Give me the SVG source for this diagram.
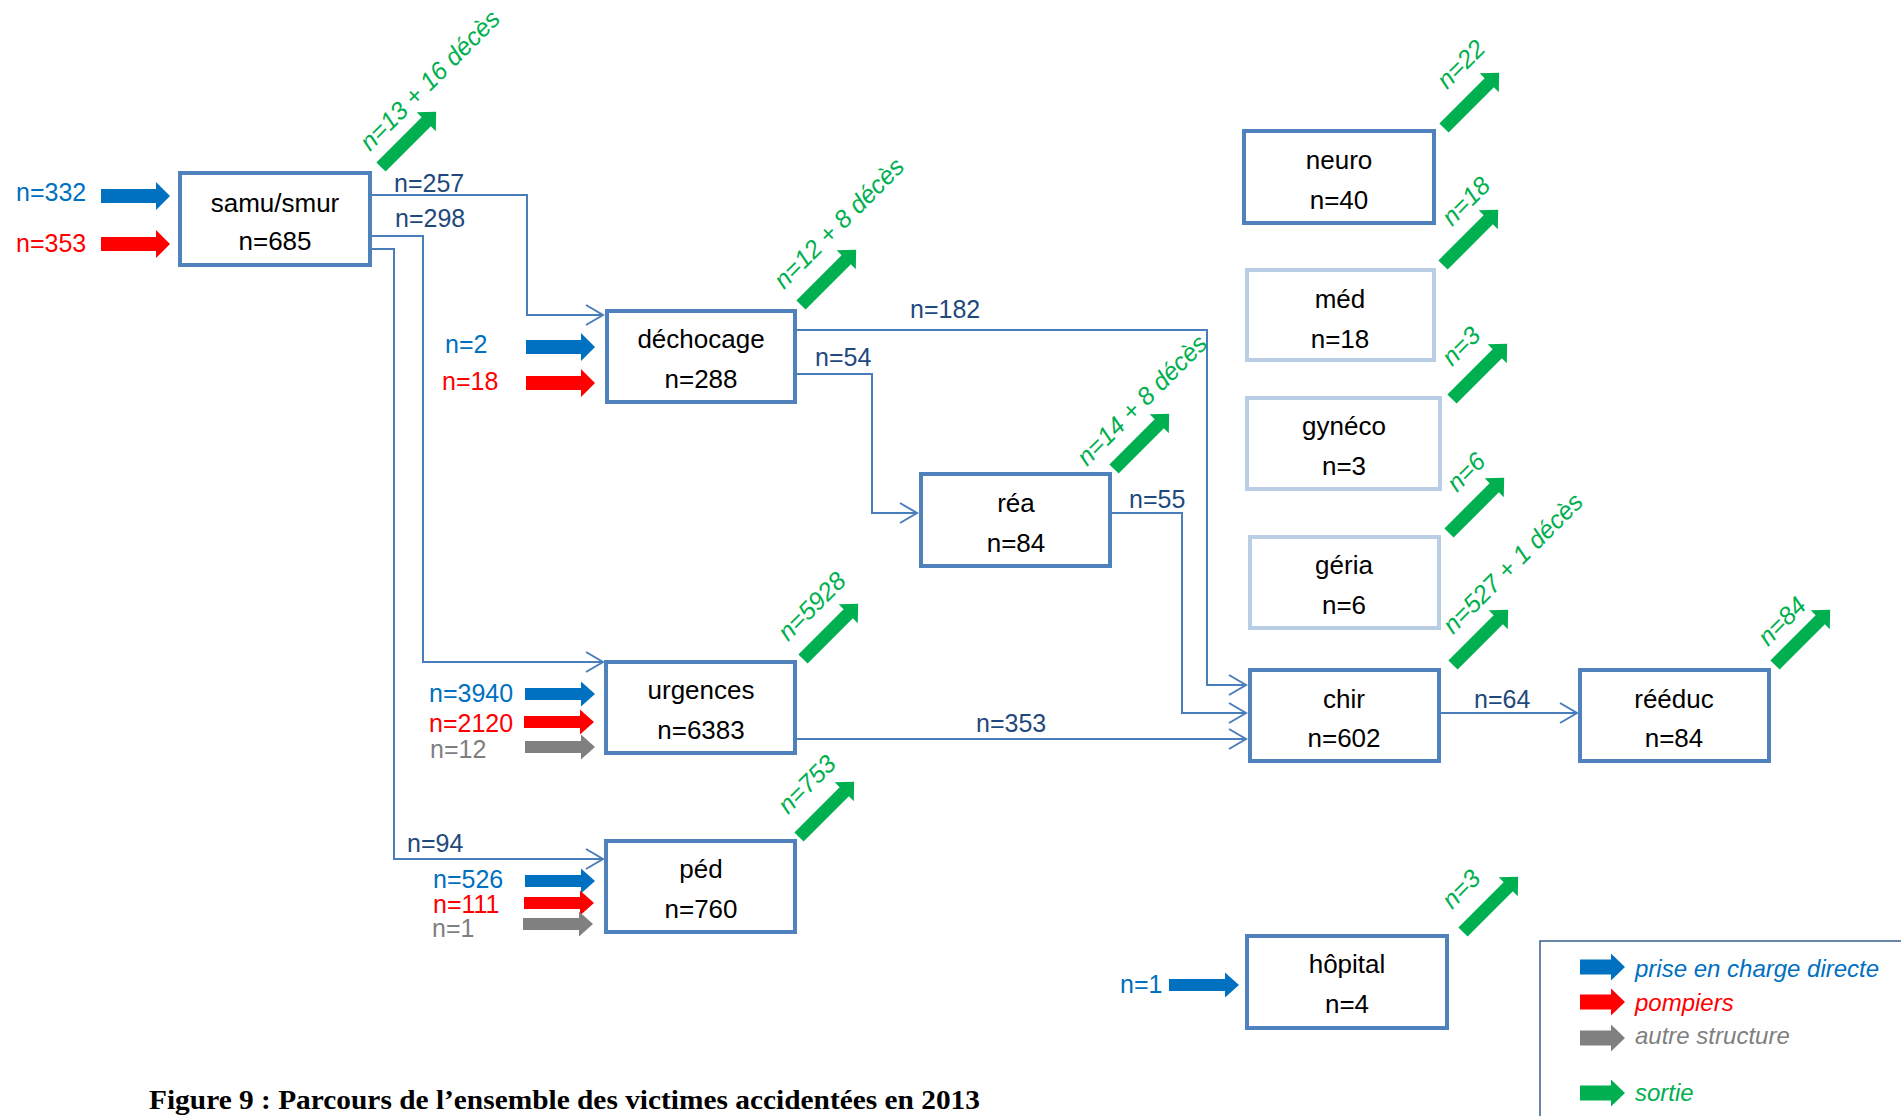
<svg xmlns="http://www.w3.org/2000/svg" width="1901" height="1116" viewBox="0 0 1901 1116">
<style>
text{font-family:"Liberation Sans",Arial,sans-serif;}
.node rect{fill:#fff;stroke:#4F81BD;stroke-width:4;}
.node.light rect{stroke:#B9CDE5;}
.node text{font-size:26px;fill:#000;text-anchor:middle;}
.lbl{font-size:25px;}
.cl{fill:#1F497D;}
.b{fill:#0070C0;}
.r{fill:#FF0000;}
.g{fill:#808080;}
.gt{fill:#7F7F7F;}
.gr{fill:#00B050;}
.out{font-size:25px;font-style:italic;fill:#00B050;}
.conn{fill:none;stroke:#4A7EBB;stroke-width:2;}
.leg{font-size:24px;font-style:italic;}
.caption{font-family:"Liberation Serif","Times New Roman",serif;font-weight:bold;font-size:28px;fill:#000;}
</style>
<defs>
<marker id="chev" markerUnits="userSpaceOnUse" viewBox="-20 -13 24 26" refX="0" refY="0" markerWidth="24" markerHeight="26" orient="auto">
<path d="M-17,-10 L0,0 L-17,10" fill="none" stroke="#4A7EBB" stroke-width="2"/>
</marker>
<path id="inA" d="M0,-7 H55 V-14 L69,0 L55,14 V7 H0 Z"/>
<path id="inB" d="M0,-6 H56 V-12.5 L70,0 L56,12.5 V6 H0 Z"/>
<path id="legA" d="M0,-7.5 H31 V-13.5 L45,0 L31,13.5 V7.5 H0 Z"/>
<path id="outA" d="M0,-6.5 H64 V-13.5 L78,0 L64,13.5 V6.5 H0 Z"/>
</defs>

<g id="connectors">
<path class="conn" d="M372,195 H527 V315 H603" marker-end="url(#chev)"/>
<path class="conn" d="M372,236 H423 V662 H603" marker-end="url(#chev)"/>
<path class="conn" d="M372,249 H394 V859 H603" marker-end="url(#chev)"/>
<path class="conn" d="M797,330 H1207 V685 H1246" marker-end="url(#chev)"/>
<path class="conn" d="M797,374 H872 V513 H917" marker-end="url(#chev)"/>
<path class="conn" d="M1112,513 H1182 V713 H1246" marker-end="url(#chev)"/>
<path class="conn" d="M797,739 H1246" marker-end="url(#chev)"/>
<path class="conn" d="M1441,713 H1577" marker-end="url(#chev)"/>
<text class="lbl cl" x="394" y="192">n=257</text>
<text class="lbl cl" x="395" y="227">n=298</text>
<text class="lbl cl" x="910" y="318">n=182</text>
<text class="lbl cl" x="815" y="366">n=54</text>
<text class="lbl cl" x="1129" y="508">n=55</text>
<text class="lbl cl" x="976" y="732">n=353</text>
<text class="lbl cl" x="407" y="852">n=94</text>
<text class="lbl cl" x="1474" y="708">n=64</text>
</g>

<g id="inputs">
<text class="lbl b" x="16" y="201">n=332</text>
<use href="#inA" x="101" y="196" class="b"/>
<text class="lbl r" x="16" y="252">n=353</text>
<use href="#inA" x="101" y="244" class="r"/>
<text class="lbl b" x="445" y="353">n=2</text>
<use href="#inA" x="526" y="347" class="b"/>
<text class="lbl r" x="442" y="390">n=18</text>
<use href="#inA" x="526" y="383" class="r"/>
<text class="lbl b" x="429" y="702">n=3940</text>
<use href="#inB" x="525" y="694" class="b"/>
<text class="lbl r" x="429" y="732">n=2120</text>
<use href="#inB" x="524" y="722" class="r"/>
<text class="lbl gt" x="430" y="758">n=12</text>
<use href="#inB" x="525" y="747" class="g"/>
<text class="lbl b" x="433" y="888">n=526</text>
<use href="#inB" x="525" y="881" class="b"/>
<text class="lbl r" x="433" y="913">n=111</text>
<use href="#inB" x="524" y="903" class="r"/>
<text class="lbl gt" x="432" y="937">n=1</text>
<use href="#inB" x="523" y="924" class="g"/>
<text class="lbl b" x="1120" y="993">n=1</text>
<use href="#inB" x="1169" y="985" class="b"/>
</g>

<g id="outputs">
<use href="#outA" class="gr" transform="translate(381,167) rotate(-45)"/>
<text class="out" transform="translate(370,152) rotate(-45)">n=13 + 16 décès</text>
<use href="#outA" class="gr" transform="translate(801,305) rotate(-45)"/>
<text class="out" transform="translate(784,290) rotate(-45)">n=12 + 8 décès</text>
<use href="#outA" class="gr" transform="translate(1114,469) rotate(-45)"/>
<text class="out" transform="translate(1087,467) rotate(-45)">n=14 + 8 décès</text>
<use href="#outA" class="gr" transform="translate(803,659) rotate(-45)"/>
<text class="out" transform="translate(788,642) rotate(-45)">n=5928</text>
<use href="#outA" class="gr" transform="translate(799,837) rotate(-45)"/>
<text class="out" transform="translate(788,815) rotate(-45)">n=753</text>
<use href="#outA" class="gr" transform="translate(1444,128) rotate(-45)"/>
<text class="out" transform="translate(1447,90) rotate(-45)">n=22</text>
<use href="#outA" class="gr" transform="translate(1443,265) rotate(-45)"/>
<text class="out" transform="translate(1452,227) rotate(-45)">n=18</text>
<use href="#outA" class="gr" transform="translate(1452,399) rotate(-45)"/>
<text class="out" transform="translate(1452,367) rotate(-45)">n=3</text>
<use href="#outA" class="gr" transform="translate(1449,533) rotate(-45)"/>
<text class="out" transform="translate(1457,493) rotate(-45)">n=6</text>
<use href="#outA" class="gr" transform="translate(1453,665) rotate(-45)"/>
<text class="out" transform="translate(1453,635) rotate(-45)">n=527 + 1 décès</text>
<use href="#outA" class="gr" transform="translate(1775,665) rotate(-45)"/>
<text class="out" transform="translate(1768,647) rotate(-45)">n=84</text>
<use href="#outA" class="gr" transform="translate(1463,932) rotate(-45)"/>
<text class="out" transform="translate(1452,910) rotate(-45)">n=3</text>
</g>

<g id="samu" class="node"><rect x="180" y="173" width="190" height="92"/><text x="275" y="212">samu/smur</text><text x="275" y="250">n=685</text></g>
<g id="dechocage" class="node"><rect x="607" y="311" width="188" height="91"/><text x="701" y="348">déchocage</text><text x="701" y="388">n=288</text></g>
<g id="rea" class="node"><rect x="921" y="474" width="189" height="92"/><text x="1016" y="512">réa</text><text x="1016" y="552">n=84</text></g>
<g id="urgences" class="node"><rect x="606" y="662" width="189" height="91"/><text x="701" y="699">urgences</text><text x="701" y="739">n=6383</text></g>
<g id="ped" class="node"><rect x="606" y="841" width="189" height="91"/><text x="701" y="878">péd</text><text x="701" y="918">n=760</text></g>
<g id="neuro" class="node"><rect x="1244" y="131" width="190" height="92"/><text x="1339" y="169">neuro</text><text x="1339" y="209">n=40</text></g>
<g id="med" class="node light"><rect x="1247" y="270" width="187" height="90"/><text x="1340" y="308">méd</text><text x="1340" y="348">n=18</text></g>
<g id="gyneco" class="node light"><rect x="1247" y="398" width="193" height="91"/><text x="1344" y="435">gynéco</text><text x="1344" y="475">n=3</text></g>
<g id="geria" class="node light"><rect x="1250" y="537" width="189" height="91"/><text x="1344" y="574">géria</text><text x="1344" y="614">n=6</text></g>
<g id="chir" class="node"><rect x="1250" y="670" width="189" height="91"/><text x="1344" y="708">chir</text><text x="1344" y="747">n=602</text></g>
<g id="reeduc" class="node"><rect x="1580" y="670" width="189" height="91"/><text x="1674" y="708">rééduc</text><text x="1674" y="747">n=84</text></g>
<g id="hopital" class="node"><rect x="1247" y="936" width="200" height="92"/><text x="1347" y="973">hôpital</text><text x="1347" y="1013">n=4</text></g>

<g id="legend">
<path d="M1540,1116 V941 H1901" fill="none" stroke="#385D8A" stroke-width="1.5"/>
<use href="#legA" x="1580" y="967" class="b"/>
<text class="leg b" x="1635" y="977">prise en charge directe</text>
<use href="#legA" x="1580" y="1002" class="r"/>
<text class="leg r" x="1635" y="1011">pompiers</text>
<use href="#legA" x="1580" y="1038" class="g"/>
<text class="leg gt" x="1635" y="1044">autre structure</text>
<use href="#legA" x="1580" y="1093" class="gr"/>
<text class="leg gr" x="1635" y="1101">sortie</text>
</g>

<text class="caption" x="149" y="1109" textLength="831" lengthAdjust="spacingAndGlyphs">Figure 9 : Parcours de l’ensemble des victimes accidentées en 2013</text>
</svg>
